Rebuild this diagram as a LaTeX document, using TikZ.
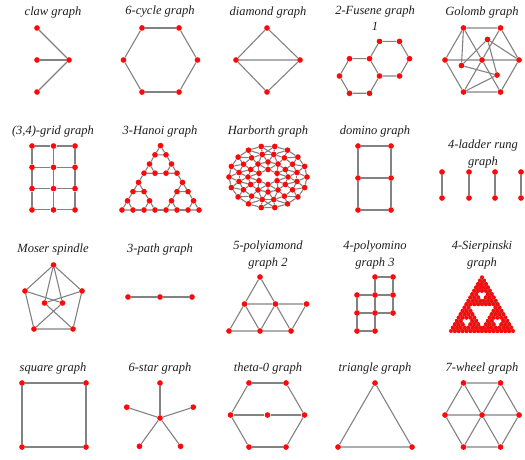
\documentclass[tikz,border=0pt]{standalone}
\usepackage{fontspec}
\setmainfont{Liberation Serif}
\usepackage{tikz}
\definecolor{dotred}{RGB}{250, 10, 10}
\definecolor{linkgray}{RGB}{130, 130, 130}
\definecolor{titlegray}{RGB}{30, 30, 30}
\tikzset{
  dot/.style={circle, fill=dotred, inner sep=0pt, minimum size=5.7pt},
  sdot/.style={circle, fill=dotred, inner sep=0pt, minimum size=4.1pt},
  link/.style={draw=linkgray, line width=1.1pt},
  gtitle/.style={font=\itshape\fontsize{12.5}{16.5}\selectfont, text=titlegray, align=center, inner sep=0pt}
}

\begin{document}
\begin{tikzpicture}[x=1pt, y=-1pt]
  \useasboundingbox (0,0) rectangle (525,460);

  % ---------- row 1 ----------
  \node[gtitle] (t-claw) at (53,12) {claw graph};
  \node[dot] (claw-a) at (37,28) {};
  \node[dot] (claw-b) at (37,60) {};
  \node[dot] (claw-c) at (37,92) {};
  \node[dot] (claw-o) at (69,60) {};
  \foreach \v in {a,b,c}
    \draw[link] (claw-o) -- (claw-\v);

  \node[gtitle] (t-cycle) at (160,12) {6-cycle graph};
  \foreach \k in {0,...,5}
    \node[dot] (cyc-\k) at ({160.5+37*cos(60*\k)}, {60+37*sin(60*\k)}) {};
  \foreach \k [evaluate=\k as \n using {int(mod(\k+1,6))}] in {0,...,5}
    \draw[link] (cyc-\k) -- (cyc-\n);

  \node[gtitle] (t-diamond) at (268,12) {diamond graph};
  \node[dot] (dia-l) at (236,60) {};
  \node[dot] (dia-t) at (267,28) {};
  \node[dot] (dia-r) at (300,60) {};
  \node[dot] (dia-b) at (267,92) {};
  \draw[link] (dia-l) -- (dia-t) -- (dia-r) -- (dia-b) -- (dia-l) -- (dia-r);

  \node[gtitle] (t-fusene) at (375,18) {2-Fusene graph\\1};
  \node[dot] (fus-1) at (349.5,58.7) {};
  \node[dot] (fus-2) at (369.5,58.7) {};
  \node[dot] (fus-3) at (379.5,76) {};
  \node[dot] (fus-4) at (369.5,93.3) {};
  \node[dot] (fus-5) at (349.5,93.3) {};
  \node[dot] (fus-6) at (339.5,76) {};
  \node[dot] (fus-7) at (379.5,41.4) {};
  \node[dot] (fus-8) at (399.5,41.4) {};
  \node[dot] (fus-9) at (409.5,58.7) {};
  \node[dot] (fus-10) at (399.5,76) {};
  \draw[link] (fus-1) -- (fus-2) -- (fus-3) -- (fus-4) -- (fus-5) -- (fus-6) -- (fus-1);
  \draw[link] (fus-2) -- (fus-7) -- (fus-8) -- (fus-9) -- (fus-10) -- (fus-3);

  \node[gtitle] (t-golomb) at (482,12) {Golomb graph};
  \node[dot] (gol-c) at (482,60) {};
  \foreach \k in {0,...,5}
    \node[dot] (gol-\k) at ({482+37*cos(60*\k)}, {60+37*sin(60*\k)}) {};
  \foreach \k/\a in {0/-75,1/45,2/165}
    \node[dot] (gol-t\k) at ({482+21.3*cos(\a)}, {60+21.3*sin(\a)}) {};
  \foreach \k [evaluate=\k as \n using {int(mod(\k+1,6))}] in {0,...,5}
    \draw[link] (gol-\k) -- (gol-\n) (gol-c) -- (gol-\k);
  \draw[link] (gol-t0) -- (gol-t1) -- (gol-t2) -- (gol-t0);
  \draw[link] (gol-t0) -- (gol-0) (gol-t1) -- (gol-2) (gol-t2) -- (gol-4);

  % ---------- row 2 ----------
  \node[gtitle] (t-grid) at (53,131) {(3,4)-grid graph};
  \foreach \i in {0,1,2}
    \foreach \j in {0,...,3}
      \node[dot] (grid-\i-\j) at ({32+21.5*\i}, {146+21.3*\j}) {};
  \foreach \j in {0,...,3}
    \draw[link] (grid-0-\j) -- (grid-1-\j) -- (grid-2-\j);
  \foreach \i in {0,1,2}
    \draw[link] (grid-\i-0) -- (grid-\i-1) -- (grid-\i-2) -- (grid-\i-3);

  \node[gtitle] (t-hanoi) at (160,131) {3-Hanoi graph};
  \foreach \pa/\pb in {0/0,4/0,0/4}
    \foreach \qa/\qb in {0/0,2/0,0/2}{
      \pgfmathtruncatemacro{\hx}{\pa+\qa}
      \pgfmathtruncatemacro{\hy}{\pb+\qb}
      \pgfmathtruncatemacro{\hxx}{\hx+1}
      \pgfmathtruncatemacro{\hyy}{\hy+1}
      \node[dot] (han-\hx-\hy) at ({122+11*(\hx+0.5*\hy)}, {210-9.2*\hy}) {};
      \node[dot] (han-\hxx-\hy) at ({122+11*(\hxx+0.5*\hy)}, {210-9.2*\hy}) {};
      \node[dot] (han-\hx-\hyy) at ({122+11*(\hx+0.5*\hyy)}, {210-9.2*\hyy}) {};
      \draw[link] (han-\hx-\hy) -- (han-\hxx-\hy) -- (han-\hx-\hyy) -- (han-\hx-\hy);
    }
  \foreach \u/\v in {1-0/2-0, 0-1/0-2, 2-1/1-2, 5-0/6-0, 4-1/4-2, 6-1/5-2,
                     1-4/2-4, 0-5/0-6, 2-5/1-6, 3-0/4-0, 0-3/0-4, 4-3/3-4}
    \draw[link] (han-\u) -- (han-\v);

  \node[gtitle] (t-harborth) at (268,131) {Harborth graph};
  \foreach \k in {0,...,17}
    \node[dot] (hb-a\k) at ({268+39*cos(20*\k)}, {177+31*sin(20*\k)}) {};
  \foreach \k in {0,...,15}
    \node[dot] (hb-b\k) at ({268+29.5*cos(22.5*\k+11.25)}, {177+23*sin(22.5*\k+11.25)}) {};
  \foreach \k in {0,...,11}
    \node[dot] (hb-c\k) at ({268+20*cos(30*\k)}, {177+15*sin(30*\k)}) {};
  \foreach \k in {0,...,5}
    \node[dot] (hb-d\k) at ({268+10.5*cos(60*\k+30)}, {177+7.5*sin(60*\k+30)}) {};
  \foreach \k in {0,...,17}{
    \pgfmathtruncatemacro{\kn}{mod(\k+1,18)}
    \pgfmathtruncatemacro{\ma}{mod(floor((20*\k-11.25)/22.5)+16,16)}
    \pgfmathtruncatemacro{\mb}{mod(\ma+1,16)}
    \draw[link] (hb-a\k) -- (hb-a\kn) (hb-a\k) -- (hb-b\ma) (hb-a\k) -- (hb-b\mb);
  }
  \foreach \k in {0,...,15}{
    \pgfmathtruncatemacro{\kn}{mod(\k+1,16)}
    \draw[link] (hb-b\k) -- (hb-b\kn);
  }
  \foreach \k in {0,...,11}{
    \pgfmathtruncatemacro{\kn}{mod(\k+1,12)}
    \pgfmathtruncatemacro{\ma}{mod(floor((30*\k-11.25)/22.5)+16,16)}
    \pgfmathtruncatemacro{\mb}{mod(\ma+1,16)}
    \draw[link] (hb-c\k) -- (hb-c\kn) (hb-c\k) -- (hb-b\ma) (hb-c\k) -- (hb-b\mb);
  }
  \foreach \k in {0,...,5}{
    \pgfmathtruncatemacro{\kn}{mod(\k+1,6)}
    \pgfmathtruncatemacro{\ma}{2*\k}
    \pgfmathtruncatemacro{\mb}{2*\k+1}
    \pgfmathtruncatemacro{\mc}{mod(2*\k+2,12)}
    \draw[link] (hb-d\k) -- (hb-d\kn) (hb-d\k) -- (hb-c\ma) (hb-d\k) -- (hb-c\mb) (hb-d\k) -- (hb-c\mc);
  }

  \node[gtitle] (t-domino) at (375,131) {domino graph};
  \node[dot] (dom-a) at (358,146) {};
  \node[dot] (dom-b) at (391,146) {};
  \node[dot] (dom-c) at (358,178) {};
  \node[dot] (dom-d) at (391,178) {};
  \node[dot] (dom-e) at (358,210) {};
  \node[dot] (dom-f) at (391,210) {};
  \draw[link] (dom-a) -- (dom-b) -- (dom-d) -- (dom-f) -- (dom-e) -- (dom-c) -- (dom-a);
  \draw[link] (dom-c) -- (dom-d);

  \node[gtitle] (t-ladder) at (483,154) {4-ladder rung\\graph};
  \foreach \k/\x in {1/442,2/469,3/495,4/521}{
    \node[dot] (lad-u\k) at (\x,172) {};
    \node[dot] (lad-d\k) at (\x,198) {};
    \draw[link] (lad-u\k) -- (lad-d\k);
  }

  % ---------- row 3 ----------
  \node[gtitle] (t-moser) at (53,249) {Moser spindle};
  \node[dot] (mos-t) at (53.5,265) {};
  \node[dot] (mos-l) at (25,291) {};
  \node[dot] (mos-r) at (82,291) {};
  \node[dot] (mos-il) at (44.5,303) {};
  \node[dot] (mos-ir) at (62.5,303) {};
  \node[dot] (mos-bl) at (34,329) {};
  \node[dot] (mos-br) at (73,329) {};
  \draw[link] (mos-l) -- (mos-t) -- (mos-r);
  \draw[link] (mos-il) -- (mos-t) -- (mos-ir);
  \draw[link] (mos-l) -- (mos-ir) (mos-r) -- (mos-il);
  \draw[link] (mos-l) -- (mos-bl) -- (mos-br) -- (mos-r);
  \draw[link] (mos-il) -- (mos-br) (mos-ir) -- (mos-bl);

  \node[gtitle] (t-path) at (160,249) {3-path graph};
  \node[dot] (pth-a) at (128,297) {};
  \node[dot] (pth-b) at (160,297) {};
  \node[dot] (pth-c) at (192,297) {};
  \draw[link] (pth-a) -- (pth-b) -- (pth-c);

  \node[gtitle] (t-iamond) at (268,255) {5-polyiamond\\graph 2};
  \node[dot] (ia-a) at (260,277) {};
  \node[dot] (ia-b) at (244.5,304) {};
  \node[dot] (ia-c) at (275.5,304) {};
  \node[dot] (ia-d) at (306.5,304) {};
  \node[dot] (ia-e) at (229,331) {};
  \node[dot] (ia-f) at (260,331) {};
  \node[dot] (ia-g) at (291,331) {};
  \draw[link] (ia-a) -- (ia-b) -- (ia-e) -- (ia-f) -- (ia-g) -- (ia-d) -- (ia-c) -- (ia-a);
  \draw[link] (ia-b) -- (ia-c) -- (ia-g) (ia-b) -- (ia-f) -- (ia-c);

  \node[gtitle] (t-omino) at (375,255) {4-polyomino\\graph 3};
  \node[dot] (om-a) at (375,277) {};
  \node[dot] (om-b) at (393,277) {};
  \node[dot] (om-c) at (357,295) {};
  \node[dot] (om-d) at (375,295) {};
  \node[dot] (om-e) at (393,295) {};
  \node[dot] (om-f) at (357,313) {};
  \node[dot] (om-g) at (375,313) {};
  \node[dot] (om-h) at (393,313) {};
  \node[dot] (om-i) at (357,331) {};
  \node[dot] (om-j) at (375,331) {};
  \draw[link] (om-a) -- (om-b) -- (om-e) -- (om-h) -- (om-g) -- (om-j) -- (om-i) -- (om-f) -- (om-c) -- (om-d) -- (om-a);
  \draw[link] (om-d) -- (om-e) (om-d) -- (om-g) -- (om-f);

  \node[gtitle] (t-sierpinski) at (482,255) {4-Sierpinski\\graph};
  \foreach \pa/\pb in {0/0,8/0,0/8}
  \foreach \qa/\qb in {0/0,4/0,0/4}
  \foreach \ra/\rb in {0/0,2/0,0/2}
  \foreach \sa/\sb in {0/0,1/0,0/1}{
    \pgfmathtruncatemacro{\sx}{\pa+\qa+\ra+\sa}
    \pgfmathtruncatemacro{\sy}{\pb+\qb+\rb+\sb}
    \pgfmathtruncatemacro{\sxx}{\sx+1}
    \pgfmathtruncatemacro{\syy}{\sy+1}
    \node[sdot] (sie-\sx-\sy) at ({451+3.875*(\sx+0.5*\sy)}, {331-3.356*\sy}) {};
    \node[sdot] (sie-\sxx-\sy) at ({451+3.875*(\sxx+0.5*\sy)}, {331-3.356*\sy}) {};
    \node[sdot] (sie-\sx-\syy) at ({451+3.875*(\sx+0.5*\syy)}, {331-3.356*\syy}) {};
    \draw[link] (sie-\sx-\sy) -- (sie-\sxx-\sy) -- (sie-\sx-\syy) -- (sie-\sx-\sy);
  }

  % ---------- row 4 ----------
  \node[gtitle] (t-square) at (53,368) {square graph};
  \node[dot] (sq-a) at (22,383) {};
  \node[dot] (sq-b) at (86,383) {};
  \node[dot] (sq-c) at (86,447) {};
  \node[dot] (sq-d) at (22,447) {};
  \draw[link] (sq-a) -- (sq-b) -- (sq-c) -- (sq-d) -- (sq-a);

  \node[gtitle] (t-star) at (160,368) {6-star graph};
  \node[dot] (star-c) at (160,418) {};
  \foreach \k in {0,...,4}{
    \node[dot] (star-\k) at ({160+35*cos(72*\k-90)}, {418+35*sin(72*\k-90)}) {};
    \draw[link] (star-c) -- (star-\k);
  }

  \node[gtitle] (t-theta) at (268,368) {theta-0 graph};
  \node[dot] (th-m) at (267.5,415) {};
  \foreach \k in {0,...,5}
    \node[dot] (th-\k) at ({267.5+37*cos(60*\k)}, {415+37*sin(60*\k)}) {};
  \foreach \k [evaluate=\k as \n using {int(mod(\k+1,6))}] in {0,...,5}
    \draw[link] (th-\k) -- (th-\n);
  \draw[link] (th-3) -- (th-m) -- (th-0);

  \node[gtitle] (t-triangle) at (375,368) {triangle graph};
  \node[dot] (tri-a) at (375,383) {};
  \node[dot] (tri-b) at (338,447) {};
  \node[dot] (tri-c) at (412,447) {};
  \draw[link] (tri-a) -- (tri-b) -- (tri-c) -- (tri-a);

  \node[gtitle] (t-wheel) at (482,368) {7-wheel graph};
  \node[dot] (wh-c) at (482,415) {};
  \foreach \k in {0,...,5}
    \node[dot] (wh-\k) at ({482+37*cos(60*\k)}, {415+37*sin(60*\k)}) {};
  \foreach \k [evaluate=\k as \n using {int(mod(\k+1,6))}] in {0,...,5}
    \draw[link] (wh-\k) -- (wh-\n) (wh-c) -- (wh-\k);
\end{tikzpicture}
\end{document}
